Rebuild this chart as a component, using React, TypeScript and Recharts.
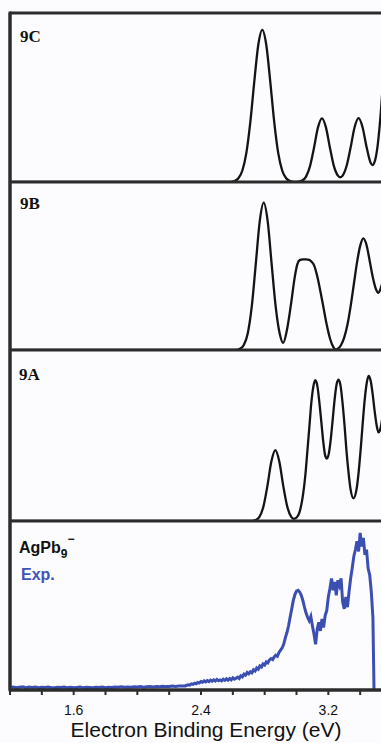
import React from 'react';
import { LineChart, Line, XAxis, YAxis, ReferenceLine, Label } from 'recharts';

// energy axis (eV)
const energyTicks = [1.2, 1.4, 1.6, 1.8, 2.0, 2.2, 2.4, 2.6, 2.8, 3.0, 3.2, 3.4, 3.6];
const labelledTicks = [1.6, 2.4, 3.2];

// simulated spectra, [binding energy, relative intensity]
const sim9C: [number, number][] = [
  [1.2, 0], [2.585, 0], [2.61, 0.005], [2.635, 0.022], [2.66, 0.068], [2.685, 0.172], [2.71, 0.356],
  [2.735, 0.596], [2.76, 0.812], [2.785, 0.9], [2.81, 0.812], [2.835, 0.596], [2.86, 0.356],
  [2.885, 0.172], [2.91, 0.068], [2.935, 0.022], [2.96, 0.005], [2.985, 0], [3.01, 0.002],
  [3.035, 0.008], [3.06, 0.032], [3.085, 0.094], [3.11, 0.203], [3.135, 0.323], [3.16, 0.377],
  [3.185, 0.323], [3.21, 0.203], [3.235, 0.094], [3.26, 0.038], [3.275, 0.028], [3.29, 0.038],
  [3.315, 0.096], [3.34, 0.204], [3.365, 0.324], [3.39, 0.378], [3.415, 0.324], [3.44, 0.208],
  [3.465, 0.115], [3.477, 0.1], [3.49, 0.117], [3.51, 0.217], [3.53, 0.415], [3.55, 0.674],
];

const sim9B: [number, number][] = [
  [1.2, 0], [2.62, 0], [2.644, 0.007], [2.669, 0.03], [2.694, 0.1], [2.719, 0.259], [2.744, 0.51],
  [2.769, 0.766], [2.794, 0.877], [2.819, 0.766], [2.844, 0.51], [2.869, 0.26], [2.894, 0.1],
  [2.916, 0.042], [2.94, 0.12], [2.965, 0.27], [2.99, 0.44], [3.005, 0.51], [3.02, 0.535],
  [3.04, 0.54], [3.06, 0.54], [3.08, 0.537], [3.095, 0.525], [3.11, 0.505], [3.13, 0.44],
  [3.15, 0.35], [3.17, 0.25], [3.19, 0.15], [3.21, 0.07], [3.23, 0.02], [3.245, 0.003],
  [3.26, 0.008], [3.28, 0.03], [3.3, 0.075], [3.32, 0.15], [3.34, 0.26], [3.36, 0.39], [3.38, 0.52],
  [3.4, 0.62], [3.42, 0.665], [3.44, 0.625], [3.46, 0.53], [3.48, 0.43], [3.5, 0.36], [3.515, 0.34],
  [3.53, 0.37], [3.55, 0.44],
];

const sim9A: [number, number][] = [
  [1.2, 0], [2.72, 0], [2.742, 0.005], [2.767, 0.024], [2.792, 0.084], [2.817, 0.204], [2.842, 0.348],
  [2.867, 0.415], [2.892, 0.348], [2.917, 0.204], [2.942, 0.084], [2.967, 0.024], [2.982, 0.013],
  [3.0, 0.02], [3.018, 0.049], [3.043, 0.167], [3.056, 0.272], [3.068, 0.405], [3.081, 0.552],
  [3.093, 0.69], [3.106, 0.787], [3.118, 0.823], [3.131, 0.79], [3.143, 0.7], [3.156, 0.58],
  [3.168, 0.465], [3.18, 0.384], [3.191, 0.365], [3.203, 0.394], [3.215, 0.476], [3.227, 0.589],
  [3.239, 0.706], [3.252, 0.8], [3.264, 0.827], [3.277, 0.79], [3.289, 0.693], [3.302, 0.557],
  [3.314, 0.41], [3.327, 0.283], [3.339, 0.189], [3.358, 0.133], [3.376, 0.179], [3.39, 0.282],
  [3.403, 0.417], [3.415, 0.56], [3.428, 0.704], [3.44, 0.8], [3.453, 0.848], [3.466, 0.82],
  [3.478, 0.746], [3.49, 0.65], [3.503, 0.562], [3.515, 0.518], [3.527, 0.539], [3.54, 0.606],
];

// experimental photoelectron spectrum
const expLowStart = 1.2;
const expLowStep = 0.02;
const expLow = [
  0.015, 0.017, 0.013, 0.016, 0.019, 0.014, 0.017, 0.015, 0.018, 0.013,
  0.016, 0.015, 0.017, 0.014, 0.013, 0.016, 0.015, 0.017, 0.014, 0.016,
  0.013, 0.015, 0.017, 0.014, 0.016, 0.015, 0.013, 0.016, 0.015, 0.017,
  0.014, 0.016, 0.015, 0.018, 0.016, 0.019, 0.017, 0.018, 0.016, 0.019,
  0.018, 0.02, 0.017, 0.019, 0.021, 0.018, 0.02, 0.019, 0.022, 0.02,
  0.021, 0.023, 0.021, 0.024, 0.023,
];
const expHighStart = 2.3;
const expHighStep = 0.01;
const expHigh = [
  0.024, 0.028, 0.031, 0.029, 0.036, 0.033, 0.04, 0.037, 0.045, 0.042,
  0.05, 0.046, 0.054, 0.048, 0.056, 0.05, 0.058, 0.052, 0.06, 0.053,
  0.062, 0.055, 0.06, 0.054, 0.064, 0.057, 0.066, 0.058, 0.068, 0.06,
  0.072, 0.064, 0.07, 0.076, 0.068, 0.084, 0.078, 0.094, 0.088, 0.104,
  0.096, 0.108, 0.102, 0.12, 0.113, 0.13, 0.123, 0.142, 0.136, 0.154,
  0.148, 0.166, 0.16, 0.178, 0.186, 0.18, 0.196, 0.206, 0.2, 0.222,
  0.236, 0.25, 0.272, 0.31, 0.34, 0.38, 0.43, 0.48, 0.53, 0.565,
  0.585, 0.59, 0.58, 0.56, 0.53, 0.49, 0.455, 0.43, 0.41, 0.435,
  0.38, 0.33, 0.27, 0.36, 0.4, 0.35, 0.42, 0.37, 0.44, 0.47,
  0.55, 0.6, 0.66, 0.59, 0.64, 0.56, 0.65, 0.62, 0.66, 0.52,
  0.48, 0.55, 0.49, 0.58, 0.66, 0.72, 0.79, 0.83, 0.88, 0.82,
  0.93, 0.85, 0.9, 0.8, 0.83, 0.72, 0.68, 0.58, 0.43,
];
const expCutoff: [number, number] = [3.487, 0];

const FRAME = '#2c2c2c';
const INK = '#141414';
const BLUE = '#3b4fb3';
const CHART_W = 392;
const LEFT = 10;
const FRAME_W = 3;

// panel edges on the page (y, px)
const panelEdges = [13, 182, 350, 521, 690];

const toRows = (pts: [number, number][]) => pts.map(([e, v]) => ({ e, v }));

const expRows = [
  ...expLow.map((v, i) => ({ e: +(expLowStart + i * expLowStep).toFixed(3), v })),
  ...expHigh.map((v, i) => ({ e: +(expHighStart + i * expHighStep).toFixed(3), v })),
  { e: expCutoff[0], v: expCutoff[1] },
];

const SimPanel = ({ pts, top, height }: any) => (
  <div style={{ position: 'absolute', left: 0, top: top - 2 }}>
    <LineChart width={CHART_W} height={height + 4} data={toRows(pts)} margin={{ top: 2, right: 0, bottom: 2, left: LEFT }}>
      <XAxis dataKey="e" type="number" domain={[1.2, 3.6]} allowDataOverflow tick={false} tickLine={false} height={0}
        axisLine={{ stroke: FRAME, strokeWidth: FRAME_W }} />
      <YAxis hide domain={[0, 1]} allowDataOverflow />
      <ReferenceLine x={1.2} stroke={FRAME} strokeWidth={FRAME_W} />
      <Line type="monotone" dataKey="v" stroke={INK} strokeWidth={2.3} dot={false} isAnimationActive={false} />
    </LineChart>
  </div>
);

export default function App() {
  return (
    <div style={{ position: 'absolute', left: 0, top: 0, width: 381, height: 743, overflow: 'hidden', background: '#fcfcfe' }}>
      <SimPanel pts={sim9C} top={panelEdges[0]} height={panelEdges[1] - panelEdges[0]} />
      <SimPanel pts={sim9B} top={panelEdges[1]} height={panelEdges[2] - panelEdges[1]} />
      <SimPanel pts={sim9A} top={panelEdges[2]} height={panelEdges[3] - panelEdges[2]} />

      <div style={{ position: 'absolute', left: 0, top: panelEdges[3] - 2 }}>
        <LineChart width={CHART_W} height={224} data={expRows} margin={{ top: 2, right: 0, bottom: 0, left: LEFT }}>
          <XAxis dataKey="e" type="number" domain={[1.2, 3.6]} allowDataOverflow ticks={energyTicks} interval={0}
            height={53} tickSize={5} tickMargin={10}
            tickFormatter={(t: number) => (labelledTicks.includes(+t.toFixed(1)) ? t.toFixed(1) : '')}
            tick={{ fontSize: 14, fill: '#111', fontFamily: '"Liberation Sans", Arial, sans-serif' }}
            tickLine={{ stroke: FRAME, strokeWidth: 2 }}
            axisLine={{ stroke: FRAME, strokeWidth: FRAME_W }}>
            <Label value="Electron Binding Energy (eV)" position="insideBottom" offset={6} dx={5}
              style={{ fontSize: 21, fill: '#111', fontFamily: '"Liberation Sans", Arial, sans-serif' }} />
          </XAxis>
          <YAxis hide domain={[0, 1]} allowDataOverflow />
          <ReferenceLine x={1.2} stroke={FRAME} strokeWidth={FRAME_W} />
          <Line type="linear" dataKey="v" stroke={BLUE} strokeWidth={3} dot={false} isAnimationActive={false} />
        </LineChart>
      </div>

      <svg width={381} height={743} style={{ position: 'absolute', left: 0, top: 0, pointerEvents: 'none' }}>
        {/* panel frame */}
        <g stroke={FRAME} strokeWidth={FRAME_W}>
          <line x1={LEFT} x2={LEFT} y1={panelEdges[0] - 1.5} y2={panelEdges[4] + 1.5} />
          {panelEdges.map((y) => (
            <line key={y} x1={LEFT} x2={381} y1={y} y2={y} />
          ))}
        </g>
        <g fontFamily='"Liberation Serif", "Times New Roman", serif' fontWeight="bold" fontSize={17} fill="#111">
          <text x={20} y={42}>9C</text>
          <text x={20} y={209}>9B</text>
          <text x={19} y={380}>9A</text>
        </g>
        <g fontFamily='"Liberation Sans", Arial, sans-serif' fontWeight="bold">
          <text x={19} y={553} fontSize={16} fill="#111">
            AgPb<tspan fontSize={12} dy={5}>9</tspan><tspan fontSize={12} dy={-15}>−</tspan>
          </text>
          <text x={21} y={580} fontSize={16} fill="#4153b8">Exp.</text>
        </g>
      </svg>
    </div>
  );
}
